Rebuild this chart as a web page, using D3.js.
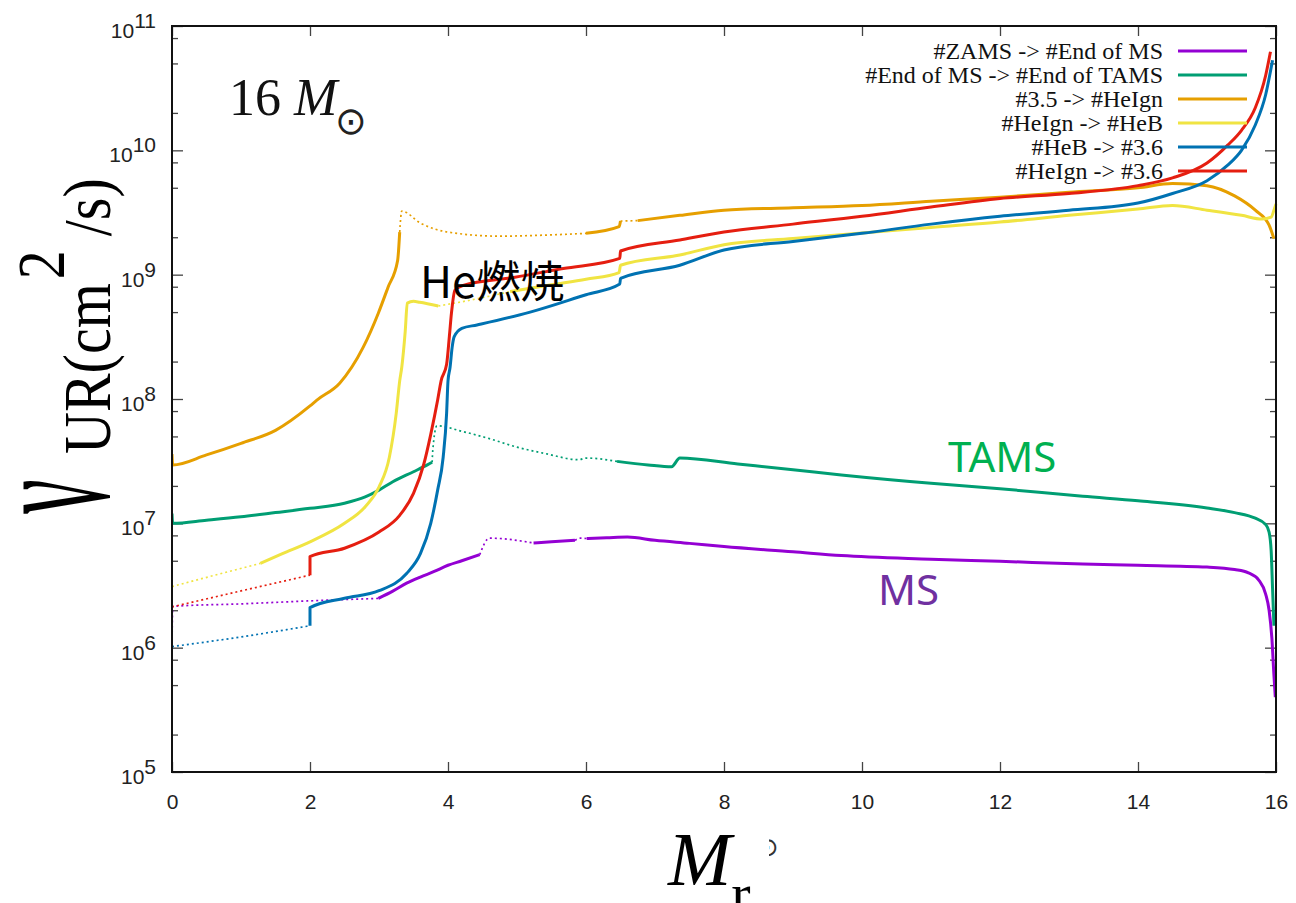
<!DOCTYPE html>
<html>
<head>
<meta charset="utf-8">
<script src="https://cdn.jsdelivr.net/npm/d3@7"></script>
<style>
  body { margin: 0; background: #fff; }
  svg { display: block; }
</style>
</head>
<body>
<svg id="chart" width="1296" height="903"></svg>
<script>
// ---- axis ticks ----
const xTicks = [0, 2, 4, 6, 8, 10, 12, 14, 16];
const yMajorExp = [5, 6, 7, 8, 9, 10, 11];
const yMinorMult = [2, 5, 8];

// ---- series: [Mr, nu_UR, style of segment ending here: "s" solid / "d" dotted] ----
const seriesNames = [
  "#ZAMS -> #End of MS",
  "#End of MS -> #End of TAMS",
  "#3.5 -> #HeIgn",
  "#HeIgn -> #HeB",
  "#HeB -> #3.6",
  "#HeIgn -> #3.6"
];
const seriesColors = ["#9400d3", "#009e73", "#e69f00", "#f0e442", "#0072b2", "#e51e10"];

const zamsToEndMS = [
  [0, 1.0e6, "d"], [0.01, 2.15e6, "d"], [1.0, 2.25e6, "d"], [2.0, 2.38e6, "d"], [2.99, 2.49e6, "d"],
  [3.2, 2.85e6, "s"], [3.4, 3.3e6, "s"], [3.6, 3.7e6, "s"], [3.8, 4.1e6, "s"], [4.0, 4.6e6, "s"],
  [4.2, 5.0e6, "s"], [4.46, 5.6e6, "s"],
  [4.6, 7.6e6, "d"], [5.24, 6.95e6, "d"],
  [5.5, 7.1e6, "s"], [5.84, 7.3e6, "s"],
  [5.92, 7.6e6, "d"], [6.01, 7.55e6, "d"],
  [6.3, 7.65e6, "s"], [6.6, 7.75e6, "s"], [7.0, 7.3e6, "s"], [7.5, 6.9e6, "s"], [8.0, 6.5e6, "s"],
  [9.0, 5.9e6, "s"], [9.7, 5.5e6, "s"], [11.0, 5.15e6, "s"], [12.0, 4.95e6, "s"], [13.2, 4.7e6, "s"],
  [14.0, 4.6e6, "s"], [15.0, 4.45e6, "s"], [15.4, 4.25e6, "s"], [15.6, 4.0e6, "s"], [15.75, 3.5e6, "s"],
  [15.85, 2.7e6, "s"], [15.9, 2.0e6, "s"], [15.94, 1.2e6, "s"], [15.97, 6.0e5, "s"], [15.99, 4.0e5, "s"]
];

const endMSToTAMS = [
  [0, 1.2e7, "s"], [0.01, 1.0e7, "s"], [0.5, 1.06e7, "s"], [1.0, 1.13e7, "s"], [1.5, 1.22e7, "s"],
  [2.0, 1.32e7, "s"], [2.5, 1.45e7, "s"], [2.8, 1.63e7, "s"], [3.0, 1.85e7, "s"], [3.2, 2.16e7, "s"],
  [3.5, 2.6e7, "s"], [3.7, 2.95e7, "s"], [3.77, 3.1e7, "s"],
  [3.78, 3.9e7, "d"], [3.84, 6.1e7, "d"], [4.2, 5.5e7, "d"], [4.6, 4.8e7, "d"], [5.0, 4.1e7, "d"],
  [5.4, 3.65e7, "d"], [5.9, 3.25e7, "d"], [6.0, 3.35e7, "d"], [6.45, 3.15e7, "d"],
  [6.9, 2.95e7, "s"], [7.24, 2.85e7, "s"], [7.36, 3.35e7, "s"], [8.2, 3.0e7, "s"], [9.0, 2.7e7, "s"],
  [9.7, 2.45e7, "s"], [11.0, 2.1e7, "s"], [12.0, 1.9e7, "s"], [13.2, 1.65e7, "s"], [14.0, 1.52e7, "s"],
  [15.0, 1.33e7, "s"], [15.4, 1.22e7, "s"], [15.7, 1.1e7, "s"], [15.85, 9.8e6, "s"], [15.9, 8.5e6, "s"],
  [15.93, 6.0e6, "s"], [15.95, 3.0e6, "s"], [15.97, 1.5e6, "s"]
];

const s35ToHeIgn = [
  [0, 3.6e7, "s"], [0.01, 2.95e7, "s"], [0.5, 3.55e7, "s"], [1.0, 4.4e7, "s"], [1.5, 5.6e7, "s"],
  [2.0, 8.8e7, "s"], [2.1, 9.8e7, "s"], [2.43, 1.34e8, "s"], [2.77, 2.6e8, "s"], [2.99, 4.9e8, "s"],
  [3.13, 7.9e8, "s"], [3.27, 1.3e9, "s"], [3.3, 2.2e9, "s"],
  [3.33, 3.25e9, "d"], [3.6, 2.6e9, "d"], [4.0, 2.2e9, "d"], [4.75, 2.04e9, "d"], [5.4, 2.08e9, "d"],
  [6.0, 2.15e9, "d"],
  [6.48, 2.43e9, "s"], [6.5, 2.7e9, "s"],
  [6.75, 2.72e9, "d"],
  [7.36, 3.0e9, "s"], [8.0, 3.3e9, "s"], [9.0, 3.45e9, "s"], [10.0, 3.6e9, "s"], [11.0, 3.9e9, "s"],
  [12.0, 4.2e9, "s"], [13.0, 4.6e9, "s"], [14.0, 5.0e9, "s"], [14.5, 5.4e9, "s"], [15.0, 5.2e9, "s"],
  [15.4, 4.3e9, "s"], [15.7, 3.3e9, "s"], [15.9, 2.5e9, "s"], [15.97, 1.95e9, "s"]
];

const heIgnToHeB = [
  [0, 3.1e6, "d"], [0.6, 3.8e6, "d"], [1.28, 4.76e6, "d"],
  [1.6, 5.7e6, "s"], [2.0, 7.1e6, "s"], [2.5, 1.0e7, "s"], [2.8, 1.36e7, "s"], [3.0, 1.96e7, "s"],
  [3.15, 3.4e7, "s"], [3.25, 7.7e7, "s"], [3.3, 1.4e8, "s"], [3.33, 1.8e8, "s"], [3.38, 3.5e8, "s"],
  [3.41, 5.9e8, "s"], [3.5, 6.1e8, "s"], [3.59, 6.0e8, "s"], [3.86, 5.6e8, "s"],
  [4.3, 6.2e8, "d"], [4.9, 7.3e8, "d"],
  [5.5, 8.3e8, "s"], [6.0, 9.2e8, "s"], [6.48, 1.04e9, "s"], [6.5, 1.19e9, "s"], [7.36, 1.44e9, "s"],
  [8.0, 1.74e9, "s"], [9.0, 1.95e9, "s"], [10.0, 2.16e9, "s"], [11.0, 2.4e9, "s"], [12.0, 2.65e9, "s"],
  [13.0, 3.0e9, "s"], [14.0, 3.37e9, "s"], [14.5, 3.6e9, "s"], [15.0, 3.3e9, "s"], [15.5, 3.0e9, "s"],
  [15.8, 2.8e9, "s"], [15.93, 2.9e9, "s"], [15.97, 3.3e9, "s"], [16.0, 3.7e9, "s"]
];

const heBTo36 = [
  [0, 1.02e6, "d"], [1.0, 1.22e6, "d"], [2.0, 1.5e6, "d"],
  [2.0, 2.1e6, "s"], [2.5, 2.5e6, "s"], [3.0, 2.87e6, "s"], [3.4, 3.95e6, "s"], [3.6, 5.7e6, "s"],
  [3.75, 1.0e7, "s"], [3.85, 1.85e7, "s"], [3.93, 3.4e7, "s"], [3.98, 7.7e7, "s"], [4.0, 1.4e8, "s"],
  [4.03, 1.8e8, "s"], [4.06, 2.6e8, "s"], [4.09, 3.17e8, "s"], [4.2, 3.7e8, "s"], [4.42, 3.94e8, "s"],
  [5.19, 5.0e8, "s"], [6.0, 6.9e8, "s"], [6.49, 8.4e8, "s"], [6.5, 9.35e8, "s"], [7.36, 1.19e9, "s"],
  [8.0, 1.58e9, "s"], [9.0, 1.85e9, "s"], [10.0, 2.15e9, "s"], [11.0, 2.55e9, "s"], [12.0, 2.95e9, "s"],
  [13.0, 3.3e9, "s"], [14.0, 3.77e9, "s"], [14.5, 4.5e9, "s"], [15.0, 5.7e9, "s"], [15.3, 7.6e9, "s"],
  [15.5, 1.0e10, "s"], [15.7, 1.6e10, "s"], [15.85, 2.8e10, "s"], [15.95, 5.3e10, "s"]
];

const heIgnTo36 = [
  [0, 2.13e6, "d"], [1.0, 2.86e6, "d"], [2.0, 3.83e6, "d"],
  [2.0, 5.4e6, "s"], [2.5, 6.3e6, "s"], [3.0, 8.5e6, "s"], [3.3, 1.16e7, "s"], [3.5, 1.74e7, "s"],
  [3.65, 3.0e7, "s"], [3.75, 5.2e7, "s"], [3.85, 9.8e7, "s"], [3.9, 1.4e8, "s"], [3.98, 1.9e8, "s"],
  [4.02, 3.2e8, "s"], [4.05, 4.9e8, "s"], [4.1, 7.5e8, "s"], [4.22, 8.2e8, "s"], [4.95, 9.5e8, "s"],
  [5.67, 1.12e9, "s"], [6.49, 1.35e9, "s"], [6.5, 1.55e9, "s"], [7.36, 1.9e9, "s"], [8.0, 2.2e9, "s"],
  [9.0, 2.55e9, "s"], [10.0, 2.95e9, "s"], [11.0, 3.5e9, "s"], [12.0, 4.1e9, "s"], [13.0, 4.5e9, "s"],
  [14.0, 5.2e9, "s"], [14.5, 6.0e9, "s"], [15.0, 7.9e9, "s"], [15.3, 1.1e10, "s"], [15.5, 1.45e10, "s"],
  [15.7, 2.2e10, "s"], [15.85, 4.0e10, "s"], [15.92, 6.2e10, "s"]
];

const allSeries = [zamsToEndMS, endMSToTAMS, s35ToHeIgn, heIgnToHeB, heBTo36, heIgnTo36];

// ---- layout ----
const plot = { left: 172, right: 1276, top: 26, bottom: 772 };
const svg = d3.select("#chart");

const x = d3.scaleLinear().domain([0, 16]).range([plot.left, plot.right]);
const y = d3.scaleLog().domain([1e5, 1e11]).range([plot.bottom, plot.top]);

const yMajor = yMajorExp.map(e => Math.pow(10, e));
const yMinor = [];
yMajorExp.slice(0, -1).forEach(e => yMinorMult.forEach(m => yMinor.push(m * Math.pow(10, e))));

const tickFont = "'Liberation Sans', Arial, sans-serif";
const serif = "'Liberation Serif', 'Times New Roman', serif";

// ---- axes (ticks point inward, mirrored on the opposite side) ----
function styleAxis(g) {
  g.select(".domain").remove();
  g.selectAll(".tick line").attr("stroke", "#444").attr("stroke-width", 1.3);
}

svg.append("g")
  .attr("transform", `translate(0,${plot.bottom})`)
  .call(d3.axisBottom(x).tickValues(xTicks).tickSize(-10).tickPadding(22).tickFormat(d3.format("d")))
  .call(styleAxis)
  .call(g => g.selectAll(".tick text")
    .attr("font-family", tickFont).attr("font-size", 21).attr("fill", "#222"));

svg.append("g")
  .attr("transform", `translate(0,${plot.top})`)
  .call(d3.axisTop(x).tickValues(xTicks).tickSize(-10).tickFormat(""))
  .call(styleAxis);

svg.append("g")
  .attr("transform", `translate(${plot.left},0)`)
  .call(d3.axisLeft(y).tickValues(yMajor).tickSize(-11).tickPadding(16).tickFormat(""))
  .call(styleAxis)
  .call(g => {
    g.selectAll(".tick").each(function (d) {
      const t = d3.select(this).select("text")
        .attr("font-family", tickFont).attr("font-size", 21).attr("fill", "#222")
        .attr("dy", "0.55em");
      t.append("tspan").text("10");
      t.append("tspan").attr("dy", -10).text(Math.round(Math.log10(d)));
    });
  });

svg.append("g")
  .attr("transform", `translate(${plot.left},0)`)
  .call(d3.axisLeft(y).tickValues(yMinor).tickSize(-6).tickFormat(""))
  .call(styleAxis);

svg.append("g")
  .attr("transform", `translate(${plot.right},0)`)
  .call(d3.axisRight(y).tickValues(yMajor).tickSize(-11).tickFormat(""))
  .call(styleAxis);

svg.append("g")
  .attr("transform", `translate(${plot.right},0)`)
  .call(d3.axisRight(y).tickValues(yMinor).tickSize(-6).tickFormat(""))
  .call(styleAxis);

// ---- curves ----
svg.append("clipPath").attr("id", "plotClip")
  .append("rect")
  .attr("x", plot.left).attr("y", plot.top - 2)
  .attr("width", plot.right - plot.left + 2).attr("height", plot.bottom - plot.top + 2);

const curveLine = d3.line().x(d => x(d[0])).y(d => y(d[1])).curve(d3.curveMonotoneX);

function runsOf(pts) {
  const runs = [];
  for (let i = 1; i < pts.length; i++) {
    const style = pts[i][2];
    const last = runs[runs.length - 1];
    if (last && last.style === style) last.pts.push(pts[i]);
    else runs.push({ style, pts: [pts[i - 1], pts[i]] });
  }
  return runs;
}

const curves = svg.append("g").attr("clip-path", "url(#plotClip)");
allSeries.forEach((pts, i) => {
  runsOf(pts).forEach(run => {
    const solid = run.style === "s";
    curves.append("path")
      .attr("d", curveLine(run.pts))
      .attr("fill", "none")
      .attr("stroke", seriesColors[i])
      .attr("stroke-width", solid ? 3 : 1.7)
      .attr("stroke-dasharray", solid ? null : "2,3")
      .attr("stroke-linejoin", "round");
  });
});

// ---- frame ----
svg.append("rect")
  .attr("x", plot.left).attr("y", plot.top)
  .attr("width", plot.right - plot.left).attr("height", plot.bottom - plot.top)
  .attr("fill", "none").attr("stroke", "#111").attr("stroke-width", 2);

// ---- legend ----
const legend = svg.append("g");
seriesNames.forEach((name, i) => {
  const cy = 51 + i * 24;
  legend.append("text")
    .attr("x", 1163).attr("y", cy + 8)
    .attr("text-anchor", "end")
    .attr("font-family", serif).attr("font-size", 24).attr("fill", "#111")
    .text(name);
  legend.append("line")
    .attr("x1", 1178).attr("x2", 1247).attr("y1", cy).attr("y2", cy)
    .attr("stroke", seriesColors[i]).attr("stroke-width", 3);
});

// ---- mass label ----
const massLabel = svg.append("text")
  .attr("x", 229).attr("y", 115)
  .attr("font-family", serif).attr("font-size", 52).attr("fill", "#111");
massLabel.append("tspan").text("16 ");
massLabel.append("tspan").attr("font-style", "italic").text("M");
svg.append("text")
  .attr("x", 335).attr("y", 134)
  .attr("font-family", "'DejaVu Sans', sans-serif").attr("font-size", 38).attr("fill", "#222")
  .text("⊙");

// ---- axis titles ----
const xTitle = svg.append("text")
  .attr("x", 668).attr("y", 885)
  .attr("font-family", serif).attr("fill", "#000");
xTitle.append("tspan").attr("font-size", 76).attr("font-style", "italic").text("M");
xTitle.append("tspan").attr("font-size", 58).attr("dy", 28).text("r");

svg.append("clipPath").attr("id", "sunClip")
  .append("rect").attr("x", 769).attr("y", 820).attr("width", 30).attr("height", 50);
svg.append("text")
  .attr("x", 757).attr("y", 856)
  .attr("clip-path", "url(#sunClip)")
  .attr("font-family", "'DejaVu Sans', sans-serif").attr("font-size", 26).attr("fill", "#333")
  .text("⊙");

// rotated y title; glyphs are drawn a little taller than wide
const yTitle = svg.append("g").attr("transform", "translate(110,514) rotate(-90) scale(1,1.15)");
yTitle.append("text")
  .attr("transform", "translate(0,-2) scale(0.48,1)")
  .attr("font-family", serif).attr("font-size", 160).attr("fill", "#000")
  .text("ν");
const yTitleRest = yTitle.append("text")
  .attr("x", 60).attr("y", 0)
  .attr("font-family", serif).attr("font-size", 58).attr("fill", "#000");
yTitleRest.append("tspan").text("UR(cm");
yTitleRest.append("tspan").attr("dx", 4).attr("dy", -40).text("2");
yTitleRest.append("tspan").attr("dx", 14).attr("dy", 40).text("/s)");

// ---- annotations ----
svg.append("text")
  .attr("x", 420).attr("y", 298)
  .attr("font-family", "'Noto Sans CJK JP', 'Noto Sans', sans-serif").attr("font-size", 44)
  .attr("fill", "#000")
  .text("He燃焼");

svg.append("text")
  .attr("x", 948).attr("y", 472)
  .attr("font-family", "'Noto Sans', 'Open Sans', sans-serif").attr("font-size", 42)
  .attr("fill", "#00b050")
  .text("TAMS");

svg.append("text")
  .attr("x", 878).attr("y", 605)
  .attr("font-family", "'Noto Sans', 'Open Sans', sans-serif").attr("font-size", 42)
  .attr("fill", "#7030a0")
  .text("MS");
</script>
</body>
</html>
